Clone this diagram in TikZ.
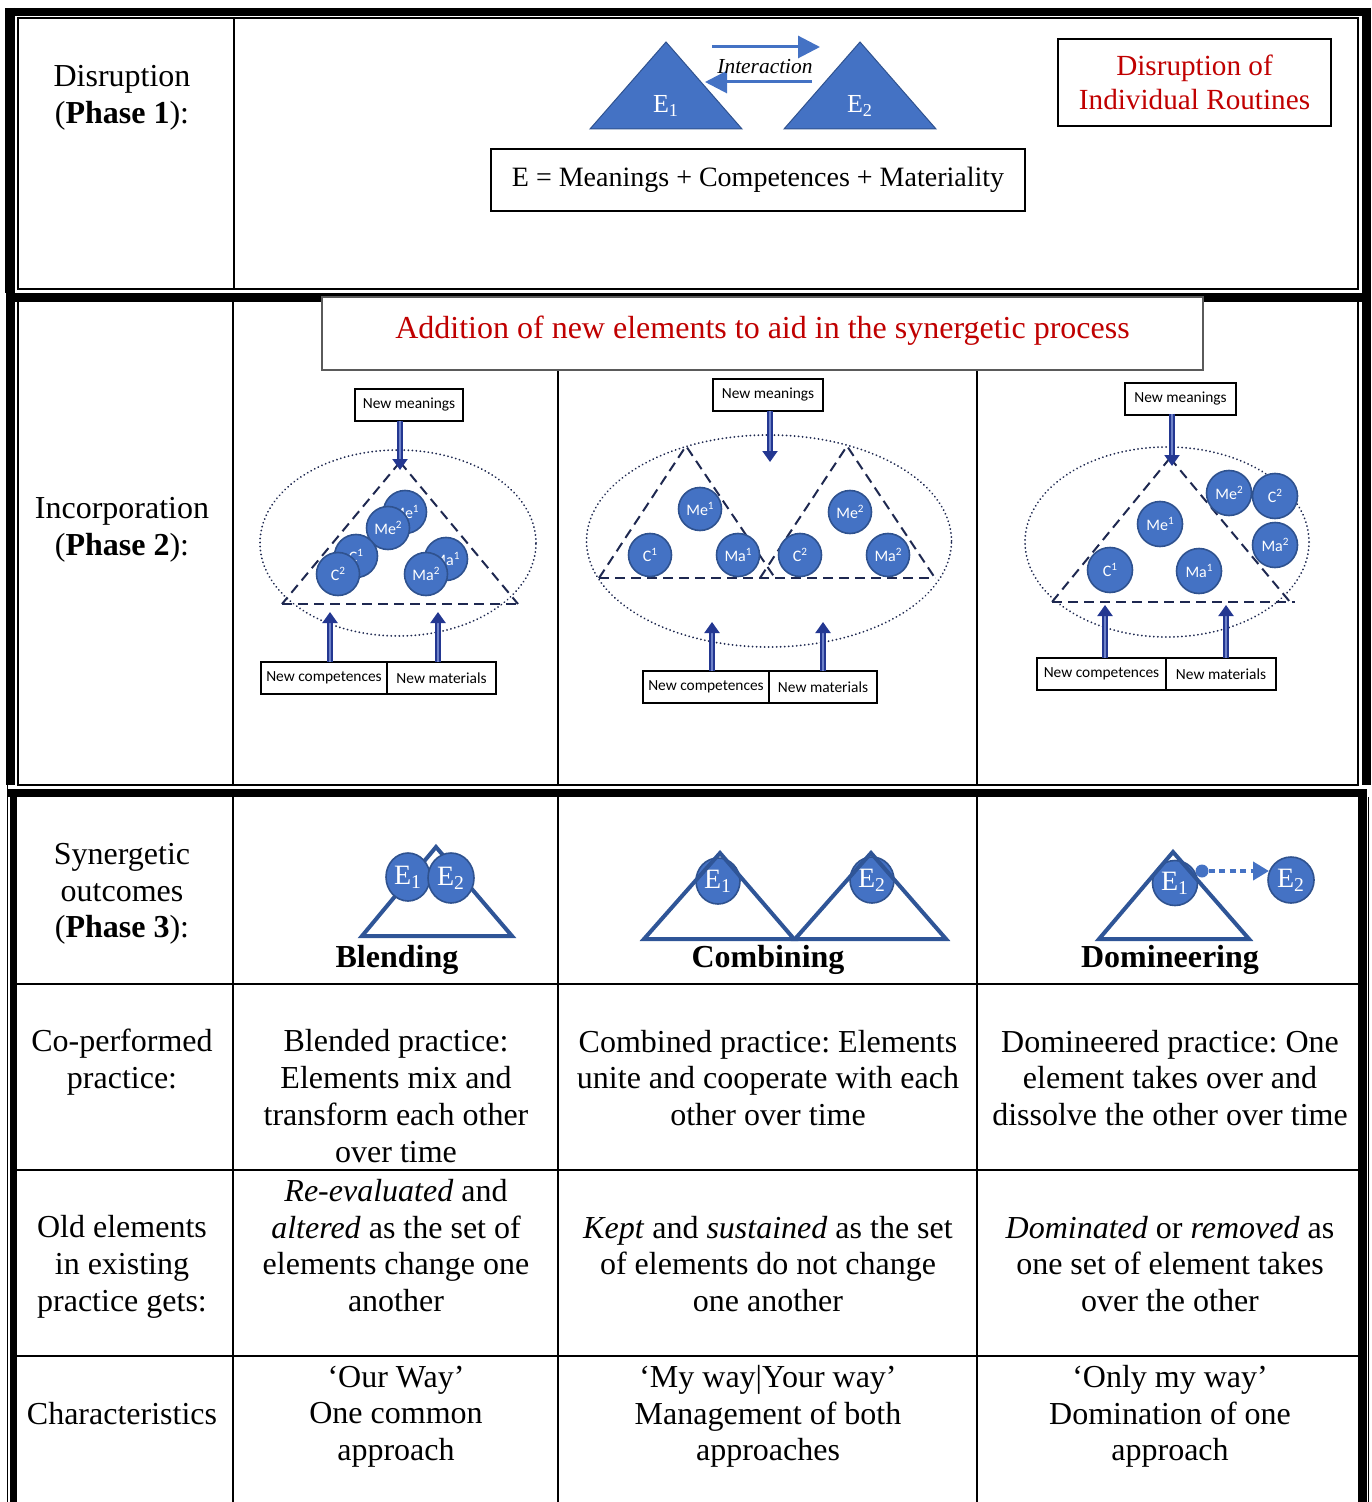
\documentclass[tikz,border=0pt]{standalone}
\usepackage{fontspec}
\setmainfont{Liberation Serif}
\newfontfamily\calib{Carlito}
\usetikzlibrary{arrows.meta,shapes.geometric}
\frenchspacing
\definecolor{bluefill}{RGB}{68,114,196}
\definecolor{blueedge}{RGB}{47,82,143}
\definecolor{trieedge}{RGB}{47,85,151}
\definecolor{arrnavy}{RGB}{35,55,145}
\definecolor{arrlight}{RGB}{110,130,200}
\definecolor{dashnavy}{RGB}{30,40,80}
\definecolor{redtxt}{RGB}{192,0,0}
\definecolor{boxgray}{RGB}{90,90,90}
\newcommand{\sups}[1]{\raisebox{0.33em}{\fontsize{5.6pt}{6pt}\selectfont #1}}
\begin{document}
\frenchspacing
\begin{tikzpicture}[x=0.5pt,y=-0.5pt,
  tbl/.style={font=\fontsize{16pt}{18.35pt}\selectfont\frenchspacing, align=center, inner sep=0pt},
  bold lbl/.style={font=\fontsize{16pt}{18pt}\selectfont\bfseries, inner sep=0pt},
  thickbar/.style={line width=4.5pt},
  thinline/.style={line width=1pt},
  cell/.style={line width=1pt},
  bluetri/.style={fill=bluefill, draw=blueedge, line width=0.5pt},
  etxt/.style={text=white, font=\fontsize{13pt}{14pt}\selectfont, inner sep=0pt},
  iarrow/.style={draw=bluefill, line width=1.5pt, -{Triangle[length=11pt,width=11pt]}},
  smallbox/.style={draw=black, line width=0.6pt, fill=white, font=\calib\fontsize{7.7pt}{9pt}\selectfont, minimum height=16pt, inner sep=1.5pt},
  navarr/.style={draw=arrnavy, line width=1.1pt, double=arrlight, double distance=1.1pt, -{Triangle[length=5.5pt,width=7.5pt]}},
  dotell/.style={ellipse, draw=dashnavy, line width=1pt, dash pattern=on 0.01pt off 2pt, line cap=round, inner sep=0pt},
  dashtri/.style={draw=dashnavy, line width=1pt, dash pattern=on 5pt off 3pt},
  ball/.style={circle, fill=bluefill, draw=blueedge, line width=0.8pt, text=white, font=\calib\fontsize{8pt}{9pt}\selectfont, inner sep=0pt, minimum size=21.5pt},
  outtri/.style={draw=trieedge, line width=2pt, line join=miter},
  ecirc/.style={ellipse, fill=bluefill, draw=blueedge, line width=0.8pt, text=white, font=\fontsize{14pt}{15pt}\selectfont, inner sep=0pt}
]
\useasboundingbox (0,0) rectangle (1371,1502);

% ---------------- Panel 1 frame ----------------
\draw[line width=4pt] (5,12) -- (1371,12);
\draw[line width=5pt] (10,8) -- (10,293);
\draw[thickbar] (1366.5,8) -- (1366.5,293);
\draw[thinline] (18,18.5) rectangle (1358,289.5);
\draw[cell] (234,18.5) -- (234,289.5);

% ---------------- Panel 2 frame ----------------
\draw[thickbar] (6,297.5) -- (1371,297.5);
\draw[thickbar] (10.5,293) -- (10.5,785);
\draw[thickbar] (1366.5,293) -- (1366.5,785);
\draw[thinline] (17.5,302) -- (17.5,785) -- (1357.5,785) -- (1357.5,302);
\draw[cell] (233,302) -- (233,785);
\draw[cell] (558,370) -- (558,785);
\draw[cell] (977,370) -- (977,785);

% ---------------- Panel 3 frame ----------------
\draw[line width=4pt] (7,793) -- (1367,793);
\draw[line width=3.5pt] (13.5,789) -- (13.5,1502);
\draw[thickbar] (1362.5,789) -- (1362.5,1502);
\draw[line width=0.8pt] (7.5,785) -- (7.5,1502);
\draw[line width=0.8pt] (1368.5,797) -- (1368.5,1502);
\foreach \yy in {984,1170,1356} \draw[cell] (17,\yy) -- (1358,\yy);
\foreach \xx in {233,558,977} \draw[cell] (\xx,797) -- (\xx,1502);

% ---------------- Panel 1 content ----------------
\node[tbl] (p1lbl) at (122,98) {Disruption\\(\textbf{Phase 1}):};
\path[bluetri] (590,129) -- (666,42) -- (742,129) -- cycle;
\path[bluetri] (784,129) -- (860,42) -- (936,129) -- cycle;
\node[etxt] (e1top) at (666,106) {E\textsubscript{1}};
\node[etxt] (e2top) at (860,106) {E\textsubscript{2}};
\coordinate (ia1) at (712,47);
\coordinate (ia2) at (820,47);
\coordinate (ib1) at (812,82);
\coordinate (ib2) at (705,82);
\draw[iarrow] (ia1) -- (ia2);
\draw[iarrow] (ib1) -- (ib2);
\node[inner sep=0pt, font=\fontsize{10.7pt}{12pt}\selectfont\itshape] (inter) at (765,67) {Interaction};
\node[draw=black, line width=0.7pt, minimum width=267pt, minimum height=31pt, inner sep=0pt,
      font=\fontsize{14pt}{16pt}\selectfont] (eq) at (758,180) {E = Meanings + Competences + Materiality};
\node[draw=black, line width=0.7pt, minimum width=136.5pt, minimum height=43.5pt, inner sep=0pt,
      text=redtxt, align=center, font=\fontsize{14.6pt}{17pt}\selectfont] (disr) at (1194.5,82.5) {Disruption of\\Individual Routines};

% ---------------- Panel 2 content ----------------
\node[tbl] (p2lbl) at (122,529.5) {Incorporation\\(\textbf{Phase 2}):};
\node[draw=boxgray, line width=0.8pt, fill=white, minimum width=440.5pt, minimum height=36.5pt, inner sep=0pt] (addbox) at (762.5,333.5) {};
\node[inner sep=0pt, text=redtxt, font=\fontsize{16pt}{18pt}\selectfont] (addtxt) at (762.5,331) {Addition of new elements to aid in the synergetic process};

% --- sub diagram 1
\node[dotell, minimum width=138pt, minimum height=93pt] (ell1) at (398,543) {};
\draw[dashtri] (400,462) -- (282,604);
\draw[dashtri] (400,462) -- (518,604);
\draw[dashtri] (282,604) -- (518,604);
\node[ball] (a-me1) at (405,512) {Me\sups{1}};
\node[ball] (a-me2) at (388,528) {Me\sups{2}};
\node[ball] (a-c1) at (356,556) {C\sups{1}};
\node[ball] (a-c2) at (338,574) {C\sups{2}};
\node[ball] (a-ma1) at (446,559) {Ma\sups{1}};
\node[ball] (a-ma2) at (426,574) {Ma\sups{2}};
\node[smallbox, minimum width=54pt] (a-nm) at (409,405) {New meanings};
\node[smallbox, minimum width=63pt] (a-nc) at (324,678) {New competences};
\node[smallbox, minimum width=54.5pt] (a-nmat) at (441.5,678) {New materials};
\coordinate (a-t1) at (400,470);
\coordinate (a-t2) at (330,612);
\coordinate (a-t3) at (438,612);
\draw[navarr] (400,421) -- (a-t1);
\draw[navarr] (330,662) -- (a-t2);
\draw[navarr] (438,662) -- (a-t3);

% --- sub diagram 2
\node[dotell, minimum width=182.5pt, minimum height=106pt] (ell2) at (769,541) {};
\draw[dashtri] (599,578) -- (686,446) -- (775,578);
\draw[dashtri] (760,578) -- (847,446) -- (935,578);
\draw[dashtri] (599,578) -- (935,578);
\node[ball] (b-me1) at (700,509) {Me\sups{1}};
\node[ball] (b-c1) at (650,555) {C\sups{1}};
\node[ball] (b-ma1) at (738,555) {Ma\sups{1}};
\node[ball] (b-c2) at (800,555) {C\sups{2}};
\node[ball] (b-me2) at (850,512) {Me\sups{2}};
\node[ball] (b-ma2) at (888,555) {Ma\sups{2}};
\node[smallbox, minimum width=55pt] (b-nm) at (768,395) {New meanings};
\node[smallbox, minimum width=63pt] (b-nc) at (706,687) {New competences};
\node[smallbox, minimum width=54pt] (b-nmat) at (823,687) {New materials};
\coordinate (b-t1) at (770,462);
\coordinate (b-t2) at (712,622);
\coordinate (b-t3) at (823,622);
\draw[navarr] (770,411) -- (b-t1);
\draw[navarr] (712,671) -- (b-t2);
\draw[navarr] (823,671) -- (b-t3);

% --- sub diagram 3
\node[dotell, minimum width=142pt, minimum height=95pt] (ell3) at (1167,542) {};
\draw[dashtri] (1170,458) -- (1052,602);
\draw[dashtri] (1170,458) -- (1290,602);
\draw[dashtri] (1052,602) -- (1295,602);
\node[ball, minimum size=22.5pt] (c-me1) at (1160,524) {Me\sups{1}};
\node[ball, minimum size=22.5pt] (c-c1) at (1110,570) {C\sups{1}};
\node[ball, minimum size=22.5pt] (c-ma1) at (1199,571) {Ma\sups{1}};
\node[ball, minimum size=22.5pt] (c-me2) at (1229,493) {Me\sups{2}};
\node[ball, minimum size=22.5pt] (c-c2) at (1275,496) {C\sups{2}};
\node[ball, minimum size=22.5pt] (c-ma2) at (1275,545) {Ma\sups{2}};
\node[smallbox, minimum width=55.5pt] (c-nm) at (1180.5,399) {New meanings};
\node[smallbox, minimum width=64.5pt] (c-nc) at (1101.5,674) {New competences};
\node[smallbox, minimum width=55pt] (c-nmat) at (1221,674) {New materials};
\coordinate (c-t1) at (1172,466);
\coordinate (c-t2) at (1105,605);
\coordinate (c-t3) at (1226,605);
\draw[navarr] (1172,414) -- (c-t1);
\draw[navarr] (1105,658) -- (c-t2);
\draw[navarr] (1226,658) -- (c-t3);

% ---------------- Panel 3 content ----------------
\node[tbl] (p3lbl) at (122,894) {Synergetic\\outcomes\\(\textbf{Phase 3}):};

% Blending
\draw[outtri] (362,936) -- (436,847) -- (512,936) -- cycle;
\node[ecirc, minimum width=22pt, minimum height=24pt] (bl-e1) at (408,877) {E\textsubscript{1}};
\node[ecirc, minimum width=23pt, minimum height=25pt] (bl-e2) at (451,878) {E\textsubscript{2}};
\node[bold lbl] (blend) at (397,960) {Blending};

% Combining
\node[ecirc, minimum width=22pt, minimum height=23pt] (co-e1) at (718,881) {E\textsubscript{1}};
\node[ecirc, minimum width=22pt, minimum height=23pt] (co-e2) at (872,880) {E\textsubscript{2}};
\draw[outtri] (644,939) -- (720,853) -- (794,939) -- cycle;
\draw[outtri] (795,939) -- (871,853) -- (946,939) -- cycle;
\node[bold lbl] (comb) at (768,960) {Combining};

% Domineering
\node[circle, fill=bluefill, draw=blueedge, line width=0.8pt, text=white, font=\fontsize{14pt}{15pt}\selectfont, inner sep=0pt, minimum size=22.5pt] (do-e1) at (1175,883) {E\textsubscript{1}};
\draw[outtri] (1099,939) -- (1173,852) -- (1249,939) -- cycle;
\node[circle, fill=bluefill, draw=blueedge, line width=0.8pt, text=white, font=\fontsize{14pt}{15pt}\selectfont, inner sep=0pt, minimum size=23pt] (do-e2) at (1291,880) {E\textsubscript{2}};
\node[circle, fill=bluefill, inner sep=0pt, minimum size=6.5pt] (do-dot) at (1202,871) {};
\coordinate (do-tip) at (1269,871);
\draw[draw=bluefill, line width=2.4pt, dash pattern=on 3pt off 2.2pt, -{Triangle[length=8pt,width=9pt]}] (do-dot) -- (do-tip);
\node[bold lbl] (domi) at (1170,960) {Domineering};

% Row 2
\node[tbl] (r2c1) at (122,1062) {Co-performed\\practice:};
\node[tbl] (r2c2) at (396,1096) {Blended practice:\\Elements mix and\\transform each other\\over time};
\node[tbl] (r2c3) at (768,1078) {Combined practice: Elements\\unite and cooperate with each\\other over time};
\node[tbl] (r2c4) at (1170,1078) {Domineered practice: One\\element takes over and\\dissolve the other over time};

% Row 3
\node[tbl] (r3c1) at (122,1267) {Old elements\\in existing\\practice gets:};
\node[tbl] (r3c2) at (396,1245.5) {\textit{Re-evaluated} and\\\textit{altered} as the set of\\elements change one\\another};
\node[tbl] (r3c3) at (768,1264) {\textit{Kept} and \textit{sustained} as the set\\of elements do not change\\one another};
\node[tbl] (r3c4) at (1170,1264) {\textit{Dominated} or \textit{removed} as\\one set of element takes\\over the other};

% Row 4
\node[tbl] (r4c1) at (122,1414) {Characteristics};
\node[tbl] (r4c2) at (396,1416.5) {‘Our Way’\\One common\\approach};
\node[tbl] (r4c3) at (768,1416.5) {‘My way|Your way’\\Management of both\\approaches};
\node[tbl] (r4c4) at (1170,1416.5) {‘Only my way’\\Domination of one\\approach};
\end{tikzpicture}
\end{document}
